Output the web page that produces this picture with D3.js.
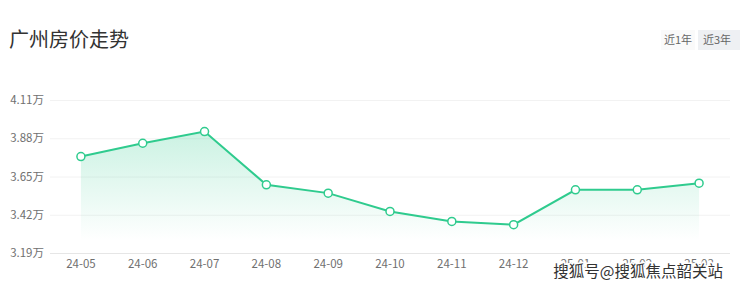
<!DOCTYPE html>
<html><head><meta charset="utf-8">
<script src="https://cdn.jsdelivr.net/npm/d3@7"></script>
<style>
html,body{margin:0;padding:0;background:#fff;}
svg{display:block;font-family:"Noto Sans CJK SC","Noto Sans",sans-serif;}
</style></head>
<body>
<svg id="c" width="740" height="288"></svg>
<script>
const months = ["24-05","24-06","24-07","24-08","24-09","24-10","24-11","24-12","25-01","25-02","25-03"];
const prices = [3.77,3.85,3.92,3.60,3.55,3.44,3.38,3.36,3.57,3.57,3.61];
const yTicks = [3.19,3.42,3.65,3.88,4.11];
const title = "广州房价走势";
const rangeButtons = ["近1年","近3年"];
const watermark = "搜狐号@搜狐焦点韶关站";

(function(){
const svg = d3.select("#c");
const pLeft = 50, pRight = 730, pTop = 100, pBottom = 253;
const lineColor = "#2fcb8e";
const fontFam = "'Noto Sans CJK SC','Noto Sans',sans-serif";

const x = d3.scaleBand().domain(months).range([pLeft, pRight]);
const y = d3.scaleLinear().domain([yTicks[0], yTicks[yTicks.length-1]]).range([pBottom, pTop]);

svg.append("text").attr("x", 9).attr("y", 47).attr("font-size", 20).attr("fill", "#333").text(title);

// range buttons
const btnX = [661, 698], btnW = [34, 42];
rangeButtons.forEach((b,i)=>{
  svg.append("rect").attr("x", btnX[i]).attr("y", 30).attr("width", btnW[i]).attr("height", 20)
    .attr("fill", i===1 ? "#eef0f3" : "#fafafa");
  svg.append("text").attr("x", btnX[i] + (i===1?19:17)).attr("y", 44).attr("text-anchor","middle")
    .attr("font-size", 11).attr("fill", "#666").text(b);
});

// gradient
const defs = svg.append("defs");
const g = defs.append("linearGradient").attr("id","ag")
  .attr("gradientUnits","userSpaceOnUse").attr("x1",0).attr("y1",y(4.0)).attr("x2",0).attr("y2",pBottom-12);
g.append("stop").attr("offset","0%").attr("stop-color",lineColor).attr("stop-opacity",0.28);
g.append("stop").attr("offset","100%").attr("stop-color",lineColor).attr("stop-opacity",0.0);

// grid
svg.append("g").selectAll("line").data(yTicks).join("line")
  .attr("x1", pLeft).attr("x2", pRight).attr("y1", d=>y(d)+0.5).attr("y2", d=>y(d)+0.5)
  .attr("stroke", (d,i)=> i===0 ? "#e6e6e6" : "#f2f2f2").attr("stroke-width",1);

// y axis labels
const yAxis = d3.axisLeft(y).tickValues(yTicks).tickSize(0).tickPadding(6).tickFormat(d=>d.toFixed(2)+"万");
const ya = svg.append("g").attr("transform",`translate(${pLeft},0)`).call(yAxis);
ya.select(".domain").remove();
ya.selectAll("text").attr("font-size",11.5).attr("fill","#707070").attr("font-family",fontFam);

// x axis labels
const xAxis = d3.axisBottom(x).tickSize(0).tickPadding(7);
const xa = svg.append("g").attr("transform",`translate(0,${pBottom})`).call(xAxis);
xa.select(".domain").remove();
xa.selectAll("text").attr("font-size",11.5).attr("fill","#707070").attr("font-family",fontFam);

const cx = d => x(d) + x.bandwidth()/2;
const data = months.map((m,i)=>({m, v: prices[i]}));

svg.append("path").datum(data)
  .attr("d", d3.area().x(d=>cx(d.m)).y0(pBottom-12).y1(d=>y(d.v)))
  .attr("fill","url(#ag)");

svg.append("path").datum(data)
  .attr("d", d3.line().x(d=>cx(d.m)).y(d=>y(d.v)))
  .attr("fill","none").attr("stroke",lineColor).attr("stroke-width",2);

svg.append("g").selectAll("circle").data(data).join("circle")
  .attr("cx", d=>cx(d.m)).attr("cy", d=>y(d.v)).attr("r",4)
  .attr("fill","#fff").attr("stroke",lineColor).attr("stroke-width",1.5);

// watermark (overlaid on the source image)
svg.append("text").attr("x", 723).attr("y", 277).attr("text-anchor","end")
  .attr("font-size",15.5)
  .attr("fill","#333").attr("stroke","#fff").attr("stroke-width",3).attr("paint-order","stroke")
  .text(watermark);
})();
</script>
</body></html>
